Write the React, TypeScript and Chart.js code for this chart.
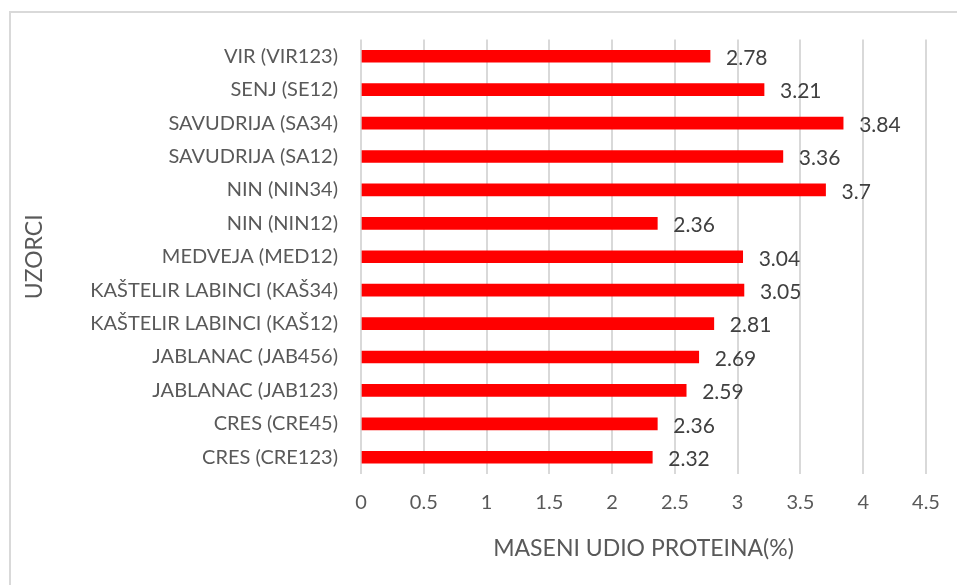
import React, { useEffect, useRef } from "react";
import { Chart, registerables } from "chart.js";

Chart.register(...registerables);

const categories = [
  "VIR (VIR123)",
  "SENJ (SE12)",
  "SAVUDRIJA (SA34)",
  "SAVUDRIJA (SA12)",
  "NIN (NIN34)",
  "NIN (NIN12)",
  "MEDVEJA (MED12)",
  "KAŠTELIR LABINCI (KAŠ34)",
  "KAŠTELIR LABINCI (KAŠ12)",
  "JABLANAC (JAB456)",
  "JABLANAC (JAB123)",
  "CRES (CRE45)",
  "CRES (CRE123)",
];
const proteinValues = [2.78, 3.21, 3.84, 3.36, 3.7, 2.36, 3.04, 3.05, 2.81, 2.69, 2.59, 2.36, 2.32];
const xMin = 0;
const xMax = 4.5;
const xStep = 0.5;
const xTitle = "MASENI UDIO PROTEINA(%)";
const yTitle = "UZORCI";

const FONT = "Lato, 'Open Sans', sans-serif";

const valueLabels = {
  id: "valueLabels",
  afterDatasetsDraw(chart: any) {
    const ctx = chart.ctx;
    const meta = chart.getDatasetMeta(0);
    ctx.save();
    ctx.fillStyle = "#404040";
    ctx.font = `21px ${FONT}`;
    ctx.textAlign = "left";
    ctx.textBaseline = "middle";
    meta.data.forEach((bar: any, i: number) => {
      ctx.fillText(String(proteinValues[i]), bar.x + 16, bar.y + 2);
    });
    ctx.restore();
  },
};

export default function App() {
  const ref = useRef<HTMLCanvasElement | null>(null);
  useEffect(() => {
    if (!ref.current) return;
    const chart = new Chart(ref.current, {
      type: "bar",
      data: {
        labels: categories,
        datasets: [
          {
            data: proteinValues,
            backgroundColor: "#ff0000",
            borderWidth: 0,
            barThickness: 12,
          },
        ],
      },
      plugins: [valueLabels],
      options: {
        indexAxis: "y",
        responsive: false,
        animation: false,
        layout: { padding: { left: 0, top: 39.5, right: 31, bottom: 0 } },
        plugins: { legend: { display: false }, tooltip: { enabled: false } },
        scales: {
          x: {
            min: xMin,
            max: xMax,
            ticks: {
              stepSize: xStep,
              color: "#595959",
              font: { family: FONT, size: 20 },
              padding: 17,
              callback: (v: any) => String(+v),
            },
            grid: { color: "#d9d9d9", lineWidth: 2, drawTicks: false },
            border: { display: false },
            title: {
              display: true,
              text: xTitle,
              color: "#595959",
              font: { family: FONT, size: 23 },
              padding: { top: 0, bottom: 23 },
            },
            afterFit(scale: any) {
              scale.height = 111;
            },
          },
          y: {
            ticks: {
              color: "#595959",
              font: { family: FONT, size: 20 },
              padding: 23,
              autoSkip: false,
            },
            grid: { display: false, drawTicks: false },
            border: { display: false },
            title: {
              display: true,
              text: yTitle,
              color: "#595959",
              font: { family: FONT, size: 23 },
              padding: { top: 21, bottom: 0 },
            },
            afterFit(scale: any) {
              scale.width = 361;
            },
          },
        },
      },
    });
    return () => chart.destroy();
  }, []);
  return (
    <div style={{ position: "fixed", left: 0, top: 0, width: 957, height: 585, background: "#fff", overflow: "hidden" }}>
      <div
        style={{
          position: "absolute",
          left: 9,
          top: 11,
          width: 1000,
          height: 1000,
          borderLeft: "2px solid #d9d9d9",
          borderTop: "2px solid #d9d9d9",
        }}
      />
      <canvas ref={ref} width={957} height={585} style={{ position: "absolute", left: 0, top: 0 }} />
    </div>
  );
}
